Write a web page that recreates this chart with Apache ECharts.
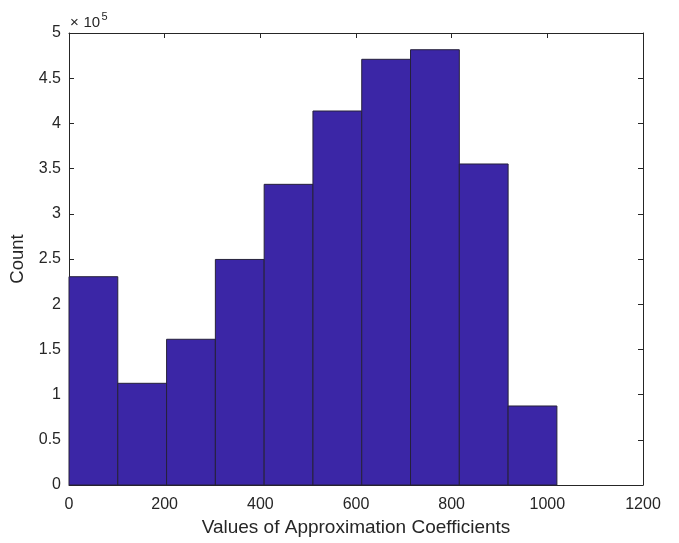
<!DOCTYPE html>
<html>
<head>
<meta charset="utf-8">
<script src="https://cdn.jsdelivr.net/npm/echarts@6/dist/echarts.min.js"></script>
<style>
  html, body { margin: 0; padding: 0; background: #fff; }
  #chart { width: 679px; height: 543px; }
</style>
</head>
<body>
<div id="chart"></div>
<script>
const binEdges = [0, 102, 204, 306, 408, 510, 612, 714, 816, 918, 1020];
const counts = [230400, 112500, 161200, 249500, 332600, 413700, 470900, 481500, 355100, 87400];
const xTicks = [0, 200, 400, 600, 800, 1000, 1200];

const bins = counts.map((c, i) => [binEdges[i], binEdges[i + 1], c]);

const axisColor = '#262626';
const font = 'Liberation Sans, Arial, sans-serif';

const chart = echarts.init(document.getElementById('chart'));

// box axes: ticks point inward, top/right copies carry no labels
const boxLine = { show: true, onZero: false, lineStyle: { color: axisColor, width: 1 } };
const boxTick = { show: true, inside: true, length: 5, lineStyle: { color: axisColor } };

chart.setOption({
  animation: false,
  grid: { left: 69, right: 36, top: 33, bottom: 58 },
  xAxis: [
    {
      type: 'value',
      min: 0,
      max: 1200,
      interval: 200,
      name: 'Values of Approximation Coefficients',
      nameLocation: 'middle',
      nameGap: 32,
      nameTextStyle: { color: axisColor, fontSize: 19, fontFamily: font },
      axisLine: boxLine,
      axisTick: boxTick,
      axisLabel: {
        color: axisColor, fontSize: 16, fontFamily: font, margin: 12,
        formatter: (v) => xTicks.includes(v) ? String(v) : ''
      },
      splitLine: { show: false }
    },
    {
      type: 'value',
      position: 'top',
      min: 0,
      max: 1200,
      interval: 200,
      axisLine: boxLine,
      axisTick: boxTick,
      axisLabel: { show: false },
      splitLine: { show: false }
    }
  ],
  yAxis: [
    {
      type: 'value',
      min: 0,
      max: 500000,
      interval: 50000,
      name: 'Count',
      nameLocation: 'middle',
      nameGap: 41,
      nameTextStyle: { color: axisColor, fontSize: 18.5, fontFamily: font },
      axisLine: boxLine,
      axisTick: boxTick,
      axisLabel: {
        color: axisColor, fontSize: 16, fontFamily: font, margin: 8,
        formatter: (v) => String(+(v / 100000).toFixed(1))
      },
      splitLine: { show: false }
    },
    {
      type: 'value',
      position: 'right',
      min: 0,
      max: 500000,
      interval: 50000,
      axisLine: boxLine,
      axisTick: boxTick,
      axisLabel: { show: false },
      splitLine: { show: false }
    }
  ],
  graphic: [
    {
      type: 'text',
      x: 70,
      y: 22.5,
      style: { text: '×', fontSize: 15, fontFamily: font, fill: axisColor, textVerticalAlign: 'middle' }
    },
    {
      type: 'text',
      x: 83.5,
      y: 22.5,
      style: { text: '10', fontSize: 15, fontFamily: font, fill: axisColor, textVerticalAlign: 'middle' }
    },
    {
      type: 'text',
      x: 101.5,
      y: 16.5,
      style: { text: '5', fontSize: 11, fontFamily: font, fill: axisColor, textVerticalAlign: 'middle' }
    }
  ],
  series: [
    {
      type: 'custom',
      xAxisIndex: 0,
      yAxisIndex: 0,
      data: bins,
      renderItem: (params, api) => {
        const p0 = api.coord([api.value(0), 0]);
        const p1 = api.coord([api.value(1), api.value(2)]);
        return {
          type: 'rect',
          shape: { x: p0[0], y: p1[1], width: p1[0] - p0[0], height: p0[1] - p1[1] },
          style: { fill: '#3b26a6', stroke: '#26213a', lineWidth: 1 }
        };
      }
    }
  ]
});
</script>
</body>
</html>
